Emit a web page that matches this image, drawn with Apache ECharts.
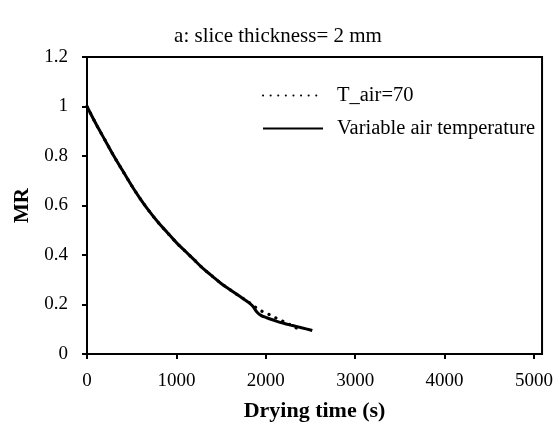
<!DOCTYPE html>
<html>
<head>
<meta charset="utf-8">
<script src="https://cdn.jsdelivr.net/npm/echarts@6/dist/echarts.min.js"></script>
<style>
  html, body { margin: 0; padding: 0; background: #fff; }
  #chart-container { width: 556px; height: 427px; }
</style>
</head>
<body>
<div id="chart-container"></div>
<script>
var dom = document.getElementById('chart-container');
var myChart = echarts.init(dom, null, {
    renderer: 'canvas',
    useDirtyRect: false
});

// drying time (s) and moisture ratio
var timeVariable = [0, 100, 200, 300, 400, 500, 600, 700, 800, 900, 1000, 1100, 1200, 1300, 1400, 1500, 1600, 1700, 1800, 1850, 1900, 1950, 2000, 2100, 2200, 2300, 2400, 2500, 2520];
var mrVariable = [1.0, 0.93, 0.865, 0.80, 0.74, 0.68, 0.625, 0.575, 0.53, 0.49, 0.45, 0.415, 0.38, 0.345, 0.315, 0.285, 0.26, 0.235, 0.21, 0.195, 0.17, 0.155, 0.148, 0.135, 0.124, 0.115, 0.106, 0.097, 0.095];

var timeT70 = [0, 100, 200, 300, 400, 500, 600, 700, 800, 900, 1000, 1100, 1200, 1300, 1400, 1500, 1600, 1700, 1800, 1864, 1950, 2035, 2117, 2210, 2300, 2380];
var mrT70 = [1.0, 0.93, 0.865, 0.80, 0.74, 0.68, 0.625, 0.575, 0.53, 0.49, 0.45, 0.415, 0.38, 0.345, 0.315, 0.285, 0.26, 0.235, 0.212, 0.194, 0.174, 0.16, 0.145, 0.129, 0.113, 0.098];

var xTicks = [0, 1000, 2000, 3000, 4000, 5000];
var seriesNames = ['T_air=70', 'Variable air temperature'];

function pairs(xs, ys) {
    return xs.map(function (x, i) { return [x, ys[i]]; });
}

var font = 'Liberation Serif';

var option = {
    animation: false,
    title: {
        text: 'a: slice thickness= 2 mm',
        left: 'center',
        top: 21,
        textStyle: { fontFamily: font, fontSize: 21, fontWeight: 'normal', color: '#000' }
    },
    legend: {
        orient: 'vertical',
        left: 257,
        top: 80,
        itemWidth: 60,
        itemHeight: 14,
        itemGap: 12,
        data: seriesNames,
        itemStyle: { opacity: 0 },
        textStyle: { fontFamily: font, fontSize: 20.5, color: '#000', padding: [0, 0, 0, 9] }
    },
    grid: {
        left: 87,
        right: 13,
        top: 57,
        bottom: 69,
        show: true,
        borderColor: '#000',
        borderWidth: 2
    },
    xAxis: {
        type: 'value',
        min: 0,
        max: 5090,
        name: 'Drying time (s)',
        nameLocation: 'middle',
        nameGap: 46,
        nameTextStyle: { fontFamily: font, fontSize: 22, fontWeight: 'bold', color: '#000' },
        axisLine: { onZero: false, lineStyle: { color: '#000', width: 2 } },
        axisTick: { show: true, length: 5, customValues: xTicks, lineStyle: { color: '#000', width: 2 } },
        axisLabel: {
            customValues: xTicks,
            margin: 18,
            fontFamily: font,
            fontSize: 19,
            color: '#000',
            formatter: function (v) { return String(v); }
        },
        splitLine: { show: false }
    },
    yAxis: {
        type: 'value',
        min: 0,
        max: 1.2,
        interval: 0.2,
        name: 'MR',
        nameLocation: 'middle',
        nameGap: 45,
        nameTextStyle: { fontFamily: font, fontSize: 21, fontWeight: 'bold', color: '#000' },
        axisLine: { show: true, lineStyle: { color: '#000', width: 2 } },
        axisTick: { show: true, length: 5, lineStyle: { color: '#000', width: 2 } },
        axisLabel: { margin: 19, fontFamily: font, fontSize: 19, color: '#000' },
        splitLine: { show: false }
    },
    series: [
        {
            name: seriesNames[0],
            type: 'line',
            data: pairs(timeT70, mrT70),
            symbol: 'none',
            smooth: 0.3,
            lineStyle: { color: '#000', width: 3.2, type: [0.1, 7.5], cap: 'round' },
            itemStyle: { color: '#000' }
        },
        {
            name: seriesNames[1],
            type: 'line',
            data: pairs(timeVariable, mrVariable),
            symbol: 'none',
            smooth: 0.3,
            lineStyle: { color: '#000', width: 3, type: 'solid' },
            itemStyle: { color: '#000' }
        }
    ]
};

if (option && typeof option === 'object') {
    myChart.setOption(option);
}

window.addEventListener('resize', myChart.resize);
</script>
</body>
</html>
